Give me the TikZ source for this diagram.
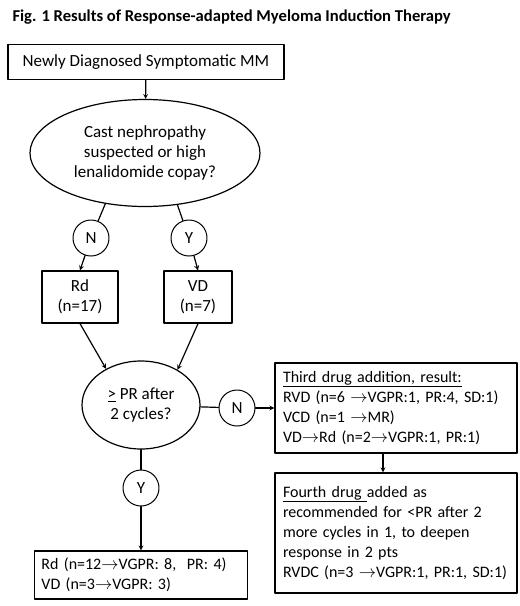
\documentclass[tikz,border=0pt]{standalone}
\usepackage{fontspec}
\setmainfont{Carlito}
\usetikzlibrary{shapes.geometric}
\newcommand{\ra}{$\rightarrow$}
\begin{document}
\begin{tikzpicture}[x=1pt,y=-1pt,>=stealth, line join=round, line cap=round, font=\fontsize{16}{20}\selectfont,
		big/.style={font=\fontsize{17}{20}\selectfont},
		box/.style={draw,line width=1.2pt,rectangle,inner sep=0pt},
		txtbox/.style={box,align=left,inner xsep=8pt,text width=226pt},
		ask/.style={big,draw,line width=1.2pt,ellipse,inner sep=0pt,align=center},
		yn/.style={big,draw,line width=1pt,circle,minimum size=36pt,inner sep=0pt}]
		\useasboundingbox (0,0) rectangle (520,606);
		\node[anchor=west,font=\fontsize{16.6}{20}\selectfont\bfseries] (title) at (9,17) {Fig. 1 Results of Response-adapted Myeloma Induction Therapy};
		% first split
		\node[box,big,minimum width=276,minimum height=35] (mm) at (146,62) {Newly Diagnosed Symptomatic MM};
		\node[ask,minimum width=230,minimum height=107] (cast) at (145,153) {Cast nephropathy\\suspected or high\\lenalidomide copay?};
		\node[yn] (castN) at (91,238) {N};
		\node[yn] (castY) at (189,238) {Y};
		\node[box,big,align=center,minimum width=76,minimum height=52] (rd) at (80,297) {Rd\\(n=17)};
		\node[box,big,align=center,minimum width=68,minimum height=52] (vd) at (198,297) {VD\\(n=7)};
		% second split
		\node[ask,minimum width=118,minimum height=88] (resp) at (141,405) {\underline{>} PR after\\2 cycles?};
		\node[yn] (respN) at (237,408) {N};
		\node[yn] (respY) at (141,488) {Y};
		\node[txtbox,minimum height=90] (third) at (396,408) {\underline{Third drug addition, result:}\\RVD (n=6 \ra VGPR:1, PR:4, SD:1)\\VCD (n=1 \ra MR)\\VD\ra Rd (n=2\ra VGPR:1, PR:1)};
		\node[txtbox,minimum height=120] (fourth) at (396,533) {\underline{Fourth drug\ }added as\\recommended for <PR after 2\\more cycles in 1, to deepen\\response in 2 pts\\RVDC (n=3 \ra VGPR:1, PR:1, SD:1)};
		\node[box,align=left,inner xsep=7pt,text width=199pt,minimum height=48] (res) at (141,575) {Rd (n=12\ra VGPR: 8,~ PR: 4)\\VD (n=3\ra VGPR: 3)};
		% connectors
		\draw[->,line width=1.2pt] (mm) -- (cast);
		\draw[line width=1.2pt] (cast.232) -- (castN);
		\draw[line width=1.2pt] (cast.302) -- (castY);
		\draw[->,line width=1.2pt] (castN) -- (rd.north);
		\draw[->,line width=1.2pt] (castY) -- (vd.north);
		\draw[->,line width=1.2pt] (rd.south) -- (resp.134);
		\draw[->,line width=1.2pt] (vd.south) -- (resp.44);
		\draw[line width=1.2pt] (resp) -- (respN);
		\draw[->,line width=1.2pt] (respN) -- (third);
		\draw[->,line width=1.2pt] ([xshift=-13]third.south) -- ([xshift=-13]fourth.north);
		\draw[line width=1.2pt] (resp) -- (respY);
		\draw[->,line width=1.2pt] (respY) -- (res);
\end{tikzpicture}
\end{document}
